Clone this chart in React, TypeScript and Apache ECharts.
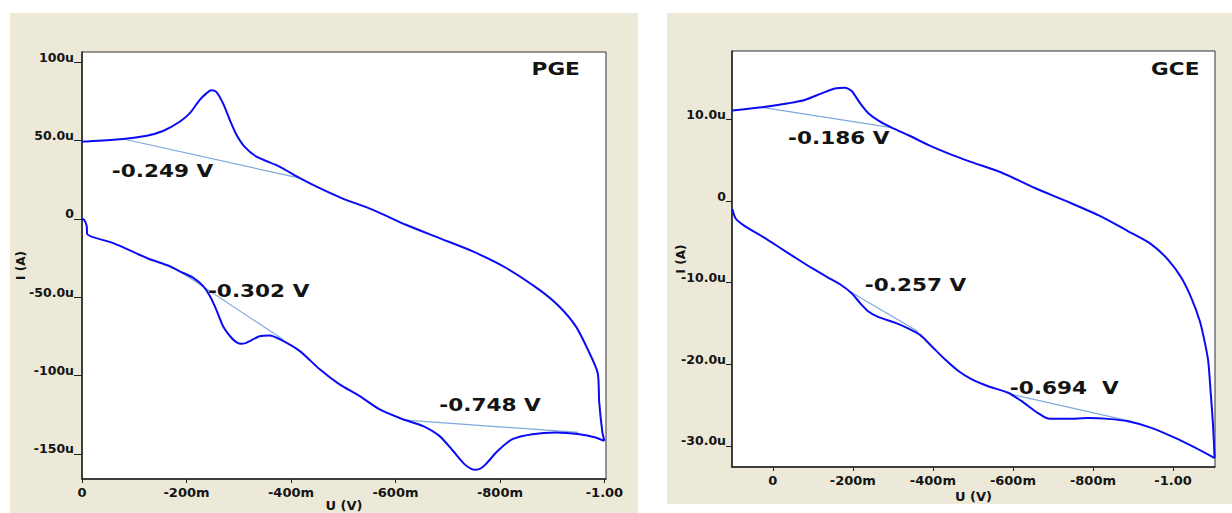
import React, { useEffect, useRef } from "react";
import * as echarts from "echarts";

// ---------- PGE (left panel) : potential U (V), current I (µA) ----------
const pgeCathodic: number[][] = [
  [0, 0], [-0.004, -0.6], [-0.009, -4.5], [-0.01, -9.8], [-0.06, -15.5], [-0.124, -25],
  [-0.168, -30.3], [-0.187, -33.5], [-0.213, -37.7], [-0.232, -43], [-0.245, -49.4],
  [-0.257, -57.9], [-0.27, -68.5], [-0.286, -75.9], [-0.296, -78.8], [-0.305, -79.7],
  [-0.313, -79.3], [-0.321, -78], [-0.34, -74.9], [-0.359, -74.4], [-0.382, -77.4],
  [-0.417, -84.4], [-0.455, -96], [-0.493, -105.6], [-0.531, -113], [-0.569, -121.5],
  [-0.614, -127.9], [-0.652, -132.1], [-0.684, -138.5], [-0.71, -148], [-0.732, -156.5],
  [-0.745, -159.5], [-0.754, -160.1], [-0.763, -159.3], [-0.773, -156.5], [-0.796, -148],
  [-0.824, -140.6], [-0.862, -137.4], [-0.907, -136.3], [-0.952, -137.4], [-0.983, -139.5],
  [-1.0, -141.7],
];
const pgeAnodic: number[][] = [
  [-1.0, -141.7], [-0.996, -136], [-0.99, -117], [-0.987, -98.2], [-0.968, -83.3],
  [-0.945, -68.5], [-0.913, -55.8], [-0.875, -45.2], [-0.812, -31.4], [-0.748, -20.8],
  [-0.684, -12.3], [-0.62, -3.8], [-0.557, 5.7], [-0.497, 13.2], [-0.455, 19.5],
  [-0.417, 25.9], [-0.378, 33.3], [-0.334, 39.6], [-0.311, 46], [-0.296, 53.4],
  [-0.283, 63], [-0.27, 73.6], [-0.257, 81], [-0.247, 82], [-0.238, 80], [-0.225, 75.7],
  [-0.206, 67.2], [-0.187, 61.9], [-0.155, 56], [-0.124, 53], [-0.079, 50.9], [0, 49.2],
];
const pgeBaselines: number[][][] = [
  [[-0.079, 50.9], [-0.417, 25.9]],
  [[-0.187, -33.5], [-0.385, -77]],
  [[-0.62, -128.5], [-0.95, -136.3]],
];
const pgePeakLabels: string[] = ["-0.249 V", "-0.302 V", "-0.748 V"];
const pgePeakAnchors: number[][] = [[-0.057, 30.5], [-0.241, -46.2], [-0.684, -118.8]];
const pgeTitle = "PGE";
const pgeTitleAnchor: number[] = [-0.953, 95.5];
const pgeXTicks: number[] = [0, -0.2, -0.4, -0.6, -0.8, -1.0];
const pgeXLabels: string[] = ["0", "-200m", "-400m", "-600m", "-800m", "-1.00"];
const pgeYTicks: number[] = [100, 50, 0, -50, -100, -150];
const pgeYLabels: string[] = ["100u", "50.0u", "0", "-50.0u", "-100u", "-150u"];

// ---------- GCE (right panel) ----------
const gceCathodic: number[][] = [
  [0.101, -1.0], [0.096, -1.8], [0.09, -2.3], [0.069, -3.1], [0.028, -4.3], [-0.014, -5.6],
  [-0.055, -6.9], [-0.097, -8.2], [-0.139, -9.4], [-0.168, -10.2], [-0.197, -11.3],
  [-0.218, -12.5], [-0.238, -13.5], [-0.263, -14.2], [-0.305, -14.9], [-0.338, -15.6],
  [-0.368, -16.4], [-0.397, -17.8], [-0.43, -19.4], [-0.463, -20.8], [-0.495, -21.8],
  [-0.538, -22.7], [-0.588, -23.5], [-0.621, -24.5], [-0.663, -26.0], [-0.692, -26.7],
  [-0.738, -26.7], [-0.788, -26.6], [-0.838, -26.7], [-0.888, -27.0], [-0.946, -27.8],
  [-1.004, -29.0], [-1.054, -30.2], [-1.104, -31.5],
];
const gceAnodic: number[][] = [
  [-1.104, -31.5], [-1.1, -27.4], [-1.094, -23.3], [-1.088, -19.6], [-1.079, -17.2],
  [-1.067, -14.7], [-1.046, -11.9], [-1.021, -9.4], [-0.988, -7.2], [-0.946, -5.3],
  [-0.888, -3.7], [-0.821, -1.9], [-0.738, -0.1], [-0.655, 1.6], [-0.571, 3.5],
  [-0.495, 4.8], [-0.446, 5.7], [-0.388, 6.9], [-0.338, 8.1], [-0.297, 9.0], [-0.263, 9.9],
  [-0.238, 10.8], [-0.218, 12.0], [-0.197, 13.5], [-0.18, 13.9], [-0.155, 13.8],
  [-0.122, 13.2], [-0.08, 12.4], [-0.039, 12.0], [0.028, 11.5], [0.102, 11.1],
];
const gceBaselines: number[][][] = [
  [[0.028, 11.5], [-0.297, 9.0]],
  [[-0.189, -11.0], [-0.363, -16.0]],
  [[-0.596, -23.7], [-0.896, -27.0]],
];
const gcePeakLabels: string[] = ["-0.186 V", "-0.257 V", "-0.694  V"];
const gcePeakAnchors: number[][] = [[-0.038, 7.7], [-0.23, -10.3], [-0.592, -22.9]];
const gceTitle = "GCE";
const gceTitleAnchor: number[] = [-1.066, 16.2];
const gceXTicks: number[] = [0, -0.2, -0.4, -0.6, -0.8, -1.0];
const gceXLabels: string[] = ["0", "-200m", "-400m", "-600m", "-800m", "-1.00"];
const gceYTicks: number[] = [10, 0, -10, -20, -30];
const gceYLabels: string[] = ["10.0u", "0", "-10.0u", "-20.0u", "-30.0u"];

const xName = "U (V)";
const yName = "I (A)";

const PANEL_BG = "#ECE9D8";
const CURVE = "#0a0af5";
const BASE = "#7fa7dc";
const INK = "#141414";
const FONT = "DejaVu Sans";

function lookup(ticks: number[], labels: string[]) {
  return (v: number) => {
    let best = 0;
    for (let i = 1; i < ticks.length; i++) {
      if (Math.abs(ticks[i] - v) < Math.abs(ticks[best] - v)) best = i;
    }
    return labels[best];
  };
}

function xAxisFor(gi: number, min: number, max: number, ticks: number[], labels: string[], gap: number) {
  return {
    type: "value",
    gridIndex: gi,
    inverse: true,
    min,
    max,
    axisLine: { show: true, onZero: false, lineStyle: { color: "#222", width: 1.5 } },
    axisTick: { show: true, length: 4, inside: false, customValues: ticks, lineStyle: { color: "#222", width: 1 } },
    axisLabel: {
      customValues: ticks,
      formatter: lookup(ticks, labels),
      margin: 7,
      color: INK,
      fontFamily: FONT,
      fontWeight: "bold",
      fontSize: 13,
    },
    splitLine: { show: false },
    name: xName,
    nameLocation: "middle",
    nameGap: gap,
    nameMoveOverlap: false,
    nameTextStyle: { color: INK, fontFamily: FONT, fontWeight: "bold", fontSize: 13, verticalAlign: "top" },
  };
}

function yAxisFor(gi: number, min: number, max: number, ticks: number[], labels: string[], tickLen: number, gap: number) {
  return {
    type: "value",
    gridIndex: gi,
    min,
    max,
    axisLine: { show: true, onZero: false, lineStyle: { color: "#222", width: 1.5 } },
    axisTick: { show: true, length: tickLen, customValues: ticks, lineStyle: { color: "#222", width: 1 } },
    axisLabel: {
      customValues: ticks,
      formatter: lookup(ticks, labels),
      margin: tickLen,
      color: INK,
      fontFamily: FONT,
      fontWeight: "bold",
      fontSize: 12.5,
      verticalAlign: "bottom",
      lineHeight: 10,
    },
    splitLine: { show: false },
    name: yName,
    nameLocation: "middle",
    nameRotate: 90,
    nameGap: gap,
    nameMoveOverlap: false,
    nameTextStyle: { color: INK, fontFamily: FONT, fontWeight: "bold", fontSize: 12 },
  };
}

function curve(gi: number, data: number[][]) {
  return {
    type: "line",
    xAxisIndex: gi,
    yAxisIndex: gi,
    data,
    symbol: "none",
    showSymbol: false,
    silent: true,
    smooth: 0.25,
    z: 4,
    lineStyle: { color: CURVE, width: 2 },
  };
}

function baseline(gi: number, data: number[][]) {
  return {
    type: "line",
    xAxisIndex: gi,
    yAxisIndex: gi,
    data,
    symbol: "none",
    showSymbol: false,
    silent: true,
    z: 3,
    lineStyle: { color: BASE, width: 1.2 },
  };
}

function notes(gi: number, anchors: number[][], texts: string[], align: string, size: number, sx: number) {
  return {
    type: "custom",
    coordinateSystem: "cartesian2d",
    xAxisIndex: gi,
    yAxisIndex: gi,
    data: anchors,
    silent: true,
    z: 6,
    renderItem: (params: any, api: any) => {
      const p = api.coord([api.value(0), api.value(1)]);
      return {
        type: "text",
        x: p[0],
        y: p[1],
        scaleX: sx,
        style: {
          text: texts[params.dataIndex],
          fill: INK,
          fontFamily: FONT,
          fontWeight: "bold",
          fontSize: size,
          align,
          verticalAlign: "middle",
        },
      };
    },
  };
}

export default function App() {
  const ref = useRef<HTMLDivElement>(null);
  useEffect(() => {
    if (!ref.current) return;
    const chart = echarts.init(ref.current, null, { renderer: "svg" });
    const gridCommon = {
      show: true,
      backgroundColor: "#ffffff",
      borderColor: "#333",
      borderWidth: 1,
      containLabel: false,
      outerBoundsMode: "none",
    };
    const option: any = {
      animation: false,
      grid: [
        { ...gridCommon, left: 82, top: 52, width: 524, height: 427 },
        { ...gridCommon, left: 732, top: 51, width: 483, height: 416 },
      ],
      xAxis: [
        xAxisFor(0, -1.003, 0, pgeXTicks, pgeXLabels, 20),
        xAxisFor(1, -1.105, 0.102, gceXTicks, gceXLabels, 23),
      ],
      yAxis: [
        yAxisFor(0, -166, 106.4, pgeYTicks, pgeYLabels, 8, 55),
        yAxisFor(1, -32.6, 18.4, gceYTicks, gceYLabels, 6, 45),
      ],
      series: [
        ...pgeBaselines.map((b) => baseline(0, b)),
        curve(0, pgeCathodic),
        curve(0, pgeAnodic),
        notes(0, pgePeakAnchors, pgePeakLabels, "left", 17, 1.27),
        notes(0, [pgeTitleAnchor], [pgeTitle], "right", 18, 1.2),
        ...gceBaselines.map((b) => baseline(1, b)),
        curve(1, gceCathodic),
        curve(1, gceAnodic),
        notes(1, gcePeakAnchors, gcePeakLabels, "left", 17, 1.27),
        notes(1, [gceTitleAnchor], [gceTitle], "right", 18, 1.2),
      ],
    };
    chart.setOption(option);
    return () => chart.dispose();
  }, []);

  return (
    <div style={{ position: "fixed", left: 0, top: 0, width: 1232, height: 513, background: "#ffffff", overflow: "hidden" }}>
      <div style={{ position: "absolute", left: 10, top: 13, width: 628, height: 500, background: PANEL_BG }} />
      <div style={{ position: "absolute", left: 667, top: 13, width: 565, height: 491, background: PANEL_BG }} />
      <div ref={ref} style={{ position: "absolute", left: 0, top: 0, width: 1232, height: 513 }} />
    </div>
  );
}
